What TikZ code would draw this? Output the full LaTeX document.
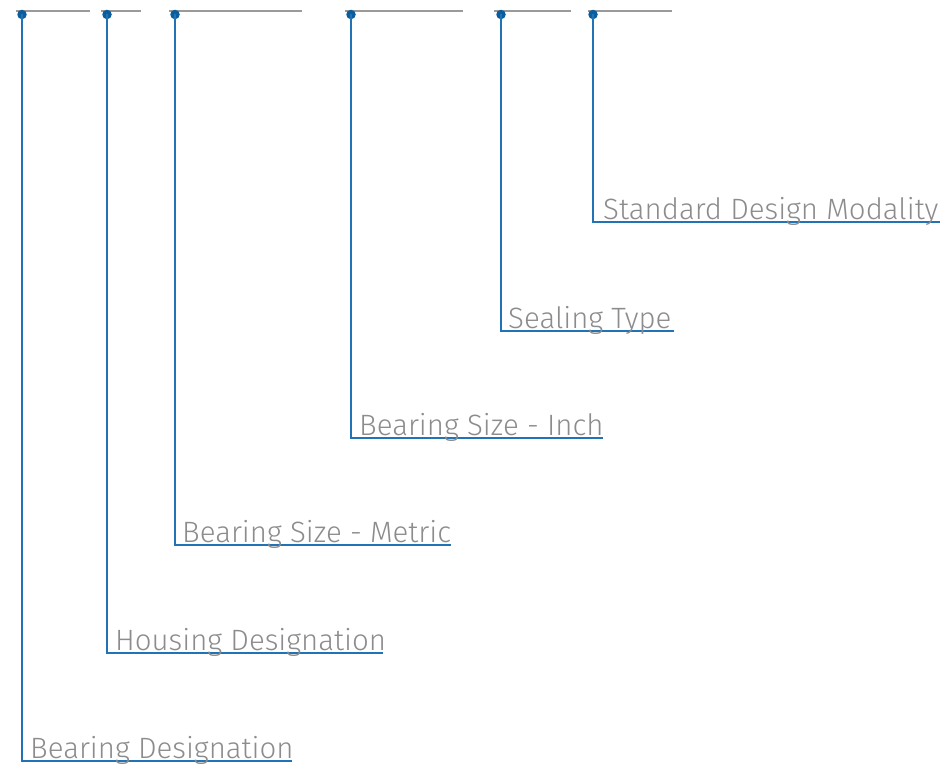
\documentclass[tikz,border=0pt]{standalone}
\usepackage{fontspec}
\setmainfont{Fira Sans}[UprightFont=* Light]
\definecolor{lblue}{HTML}{2273B5}
\definecolor{dblue}{HTML}{0A5E9E}
\definecolor{tgray}{HTML}{8C8C8C}
\definecolor{lgray}{HTML}{9A9A9A}
\begin{document}
\begin{tikzpicture}[x=1pt,y=-1pt,
  blank/.style={draw=lgray,line width=2pt},
  leader/.style={draw=lblue,line width=1.5pt},
  pin/.style={circle,fill=dblue,inner sep=0pt,minimum size=9.5pt},
  lbl/.style={anchor=base west,inner sep=0pt,text=tgray,font=\fontsize{29.4}{32}\selectfont}]
\useasboundingbox (0,0) rectangle (942,765);
% blanks
\foreach \a/\b [count=\i] in {16/90,101/141,169/302,345/463,494/571,588/672}{
  \coordinate (bl\i) at (\a,11);
  \coordinate (br\i) at (\b,11);
  \draw[blank] (bl\i) -- (br\i);
}
% pins
\node[pin] (p1) at (22,14.5) {};
\node[pin] (p2) at (107,14.5) {};
\node[pin] (p3) at (175,14.5) {};
\node[pin] (p4) at (351,14.5) {};
\node[pin] (p5) at (501,14.5) {};
\node[pin] (p6) at (593,14.5) {};
% corners and ends
\coordinate (c1) at (22,761);  \coordinate (e1) at (292,761);
\coordinate (c2) at (107,653); \coordinate (e2) at (383,653);
\coordinate (c3) at (175,545); \coordinate (e3) at (451,545);
\coordinate (c4) at (351,438); \coordinate (e4) at (603,438);
\coordinate (c5) at (501,331); \coordinate (e5) at (674,331);
\coordinate (c6) at (593,222); \coordinate (e6) at (940,222);
\foreach \i in {1,...,6}{
  \draw[leader] (p\i.center) -- (c\i) -- (e\i);
}
% labels
\node[lbl] (t1) at (30,758.5) {Bearing Designation};
\node[lbl] (t2) at (115,650.5) {Housing Designation};
\node[lbl] (t3) at (182,542.5) {Bearing Size - Metric};
\node[lbl] (t4) at (359,435.5) {Bearing Size - Inch};
\node[lbl] (t5) at (508,328.5) {Sealing Type};
\node[lbl] (t6) at (603,219.5) {Standard Design Modality};
\end{tikzpicture}
\end{document}
